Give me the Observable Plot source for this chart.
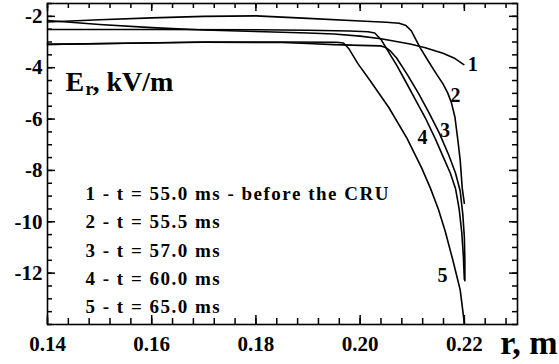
<!DOCTYPE html>
<html><head><meta charset="utf-8">
<script src="https://cdn.jsdelivr.net/npm/d3@7"></script>
<script src="https://cdn.jsdelivr.net/npm/@observablehq/plot@0.6"></script>
<style>
body{margin:0;background:#fff;}
#chart svg{display:block;}
</style></head><body><div id="chart"></div>
<script>
// Radial electric field E_r (kV/m) vs radius r (m), pairs [r, E]
const curve1 = [[0.14,-2.16],[0.15,-2.32],[0.16,-2.44],[0.17,-2.53],[0.18,-2.59],[0.19,-2.65],[0.195,-2.69],[0.20,-2.77],[0.204,-2.87],[0.2096,-3.08],[0.2125,-3.22],[0.2159,-3.44],[0.218,-3.62],[0.2199,-3.88]];
const curve2 = [[0.14,-2.22],[0.15,-2.13],[0.16,-2.06],[0.17,-2.0],[0.18,-1.98],[0.19,-2.08],[0.20,-2.18],[0.205,-2.23],[0.2075,-2.27],[0.2088,-2.36],[0.2098,-2.56],[0.2115,-3.22],[0.2131,-3.75],[0.2145,-4.2],[0.2159,-4.63],[0.2168,-4.98],[0.2175,-5.35],[0.2182,-5.93],[0.2188,-6.9],[0.2192,-7.6],[0.2196,-8.7],[0.22,-9.28]];
const curve3 = [[0.14,-3.09],[0.155,-3.05],[0.17,-3.01],[0.185,-3.02],[0.19,-3.06],[0.195,-3.1],[0.2,-3.13],[0.2039,-3.15],[0.2048,-3.2],[0.2058,-3.35],[0.207,-3.62],[0.209,-4.25],[0.2112,-5.0],[0.2132,-5.75],[0.2152,-6.55],[0.217,-7.4],[0.2183,-8.1],[0.2192,-8.8],[0.2197,-9.7],[0.22,-10.6],[0.2201,-11.5],[0.2201,-12.3]];
const curve4 = [[0.14,-2.51],[0.16,-2.51],[0.18,-2.52],[0.19,-2.54],[0.198,-2.57],[0.2015,-2.6],[0.2028,-2.65],[0.204,-2.9],[0.2055,-3.4],[0.207,-3.9],[0.2085,-4.45],[0.2105,-5.2],[0.2125,-5.95],[0.2145,-6.8],[0.216,-7.5],[0.2173,-8.1],[0.2183,-8.7],[0.219,-9.5],[0.2195,-10.4],[0.2198,-11.3],[0.22,-12.25]];
const curve5 = [[0.14,-3.09],[0.155,-3.05],[0.17,-3.0],[0.185,-3.0],[0.1955,-3.01],[0.1968,-3.04],[0.1978,-3.25],[0.1996,-3.85],[0.2019,-4.5],[0.2055,-5.55],[0.209,-6.75],[0.2118,-7.9],[0.2135,-8.7],[0.215,-9.5],[0.2163,-10.35],[0.2178,-11.5],[0.2192,-12.65],[0.22,-13.95]];

const curveNames = ["1","2","3","4","5"];
const labelE = [-3.88, -5.07, -6.44, -6.71, -12.08]; // E value on each curve where its number sits
const legendLines = [
  "1 - t = 55.0 ms - before the CRU",
  "2 - t = 55.5 ms",
  "3 - t = 57.0 ms",
  "4 - t = 60.0 ms",
  "5 - t = 65.0 ms"
];
const xMajorTicks = [0.14, 0.16, 0.18, 0.20, 0.22];
const yMajorTicks = [-2, -4, -6, -8, -10, -12];
const xMinorTicks = d3.range(0, 23).map(i => +(0.14 + i * 0.004).toFixed(3));
const yMinorTicks = d3.range(0, 26).map(i => -14 + i * 0.5);
const xTitle = "r, m";

const curves = [curve1, curve2, curve3, curve4, curve5];
const table = curves.flatMap((c, i) => c.map(([r, E]) => ({r, E, id: curveNames[i]})));

function rAt(c, E) {
  for (let i = 1; i < c.length; i++) {
    const [r0, e0] = c[i - 1], [r1, e1] = c[i];
    if (e0 !== e1 && (E - e0) * (E - e1) <= 0) return r0 + (r1 - r0) * (E - e0) / (e1 - e0);
  }
  return c[c.length - 1][0];
}
const labels = curveNames.map((n, i) => ({name: n, r: rAt(curves[i], labelE[i]), E: labelE[i]}));

const W = 559, H = 364, ML = 47, MR = 42, MT = 3, MB = 40;
const FW = W - ML - MR, FH = H - MT - MB;
const FONT = "'Liberation Serif','Times New Roman',serif";
const labelOpts = [
  {dx: 4, textAnchor: "start"},
  {dx: 2, textAnchor: "start"},
  {dx: 2, textAnchor: "start"},
  {dx: -7, textAnchor: "end"},
  {dx: -9, textAnchor: "end"}
];
const tk = {stroke: "black", strokeWidth: 1.5};
// inward tick marks on all four sides
const ticksBottom = (t, L) => Plot.tickX(t, {x: d => d, insetTop: FH - L, ...tk});
const ticksTop = (t, L) => Plot.tickX(t, {x: d => d, insetBottom: FH - L, ...tk});
const ticksLeft = (t, L) => Plot.tickY(t, {y: d => d, insetRight: FW - L, ...tk});
const ticksRight = (t, L) => Plot.tickY(t, {y: d => d, insetLeft: FW - L, ...tk});

const chart = Plot.plot({
  width: W, height: H,
  marginLeft: ML, marginRight: MR, marginTop: MT, marginBottom: MB,
  x: {domain: [0.14, 0.2302]},
  y: {domain: [-14, -1.5]},
  style: {fontFamily: FONT, background: "white", color: "black"},
  marks: [
    Plot.line(table, {x: "r", y: "E", z: "id", stroke: "black", strokeWidth: 1.6}),
    ...labels.map((l, i) => Plot.text([l], {x: "r", y: "E", text: "name", fontSize: 20, fontWeight: "bold", fontFamily: FONT, lineAnchor: "middle", fill: "black", ...labelOpts[i]})),
    ticksBottom(xMinorTicks, 6), ticksBottom(xMajorTicks, 9),
    ticksTop(xMinorTicks, 5), ticksTop(xMajorTicks, 8),
    ticksLeft(yMinorTicks, 5), ticksLeft(yMajorTicks, 8),
    ticksRight(yMinorTicks, 5), ticksRight(yMajorTicks, 8),
    Plot.axisX(xMajorTicks, {anchor: "bottom", tickSize: 0, tickPadding: 12, tickFormat: d3.format(".2f"), fontSize: 21, fontWeight: "bold", label: null}),
    Plot.axisY(yMajorTicks, {anchor: "left", tickSize: 0, tickPadding: 5, tickFormat: d => String(d), fontSize: 21, fontWeight: "bold", label: null}),
    Plot.frame({stroke: "black", strokeWidth: 1.6}),
    Plot.text(["E"], {text: d => d, frameAnchor: "top-left", dx: 18, dy: 87, lineAnchor: "bottom", textAnchor: "start", fontSize: 28, fontWeight: "bold", fontFamily: FONT}),
    Plot.text(["r"], {text: d => d, frameAnchor: "top-left", dx: 38, dy: 91, lineAnchor: "bottom", textAnchor: "start", fontSize: 18, fontWeight: "bold", fontFamily: FONT}),
    Plot.text([", kV/m"], {text: d => d, frameAnchor: "top-left", dx: 45, dy: 87, lineAnchor: "bottom", textAnchor: "start", fontSize: 28, fontWeight: "bold", fontFamily: FONT}),
    Plot.text([legendLines.join("\n")], {text: d => d, frameAnchor: "top-left", dx: 38, dy: 176.5, lineAnchor: "top", lineHeight: 1.49, textAnchor: "start", fontSize: 19, fontWeight: "bold", fontFamily: FONT}),
    Plot.text([xTitle], {text: d => d, frameAnchor: "bottom-right", dx: 40, dy: 29, lineAnchor: "bottom", textAnchor: "end", fontSize: 34, fontWeight: "bold", fontFamily: FONT})
  ]
});
d3.select(chart).selectAll("text").filter(function () { return this.textContent.includes("ms"); }).attr("letter-spacing", "1.5");
document.getElementById("chart").appendChild(chart);
</script></body></html>
